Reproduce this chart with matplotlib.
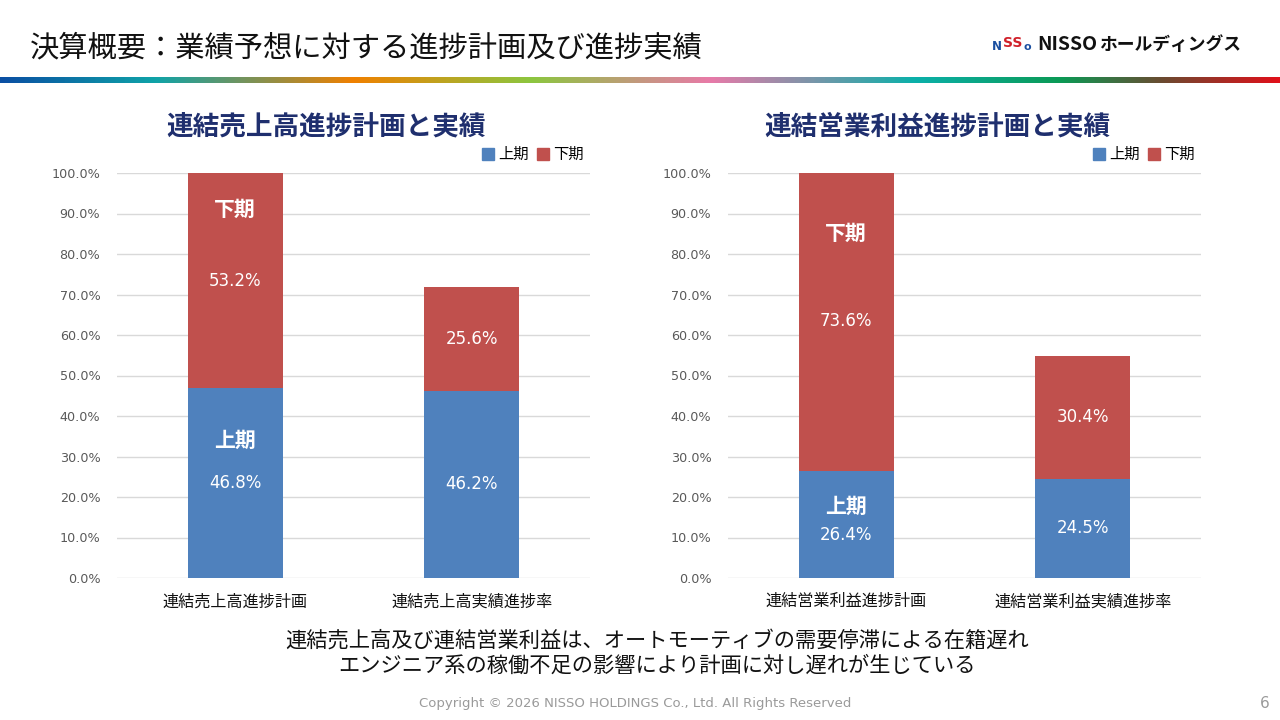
import matplotlib.pyplot as plt
import numpy as np
from matplotlib.colors import LinearSegmentedColormap
from matplotlib.lines import Line2D

plt.rcParams['font.family'] = ['Noto Sans CJK JP', 'DejaVu Sans']

# data
left_cats = ['連結売上高進捗計画', '連結売上高実績進捗率']
left_h1 = [46.8, 46.2]
left_h2 = [53.2, 25.6]

right_cats = ['連結営業利益進捗計画', '連結営業利益実績進捗率']
right_h1 = [26.4, 24.5]
right_h2 = [73.6, 30.4]

series_names = ['上期', '下期']
yticks = np.arange(0, 101, 10)

BLUE = '#4f81bd'
RED = '#c0504d'
NAVY = '#1f2f6e'

fig = plt.figure(figsize=(12.8, 7.2), dpi=100)
fig.patch.set_facecolor('white')

# header
fig.text(30 / 1280, 1 - 48 / 720, '決算概要：業績予想に対する進捗計画及び進捗実績',
         fontsize=21.1, color='#111111', va='center', ha='left')

# logo
fig.text(992 / 1280, 1 - 46 / 720, 'N', fontsize=8.5, color='#1a4fa0', fontweight='bold',
         va='center', ha='left', family='DejaVu Sans')
fig.text(1003.5 / 1280, 1 - 43 / 720, 'SS', fontsize=10, color='#d0202a', fontweight='bold',
         va='center', ha='left', family='DejaVu Sans')
fig.text(1024 / 1280, 1 - 47 / 720, 'o', fontsize=8, color='#1a4fa0', fontweight='bold',
         va='center', ha='left', family='DejaVu Sans')
fig.text(1037 / 1280, 1 - 45 / 720, 'NISSO', fontsize=14, color='#111111', fontweight='bold',
         va='center', ha='left')
fig.text(1099 / 1280, 1 - 45 / 720, 'ホールディングス', fontsize=12.8, color='#111111',
         fontweight='bold', va='center', ha='left')

# gradient stripe
stops = [(0.0, '#0a4fa3'), (0.12, '#0fa3a8'), (0.275, '#f08000'), (0.415, '#8cc63f'),
         (0.555, '#e87aa8'), (0.715, '#0bb0aa'), (0.83, '#0a9a55'), (0.91, '#6b4a30'),
         (1.0, '#e0101a')]
cmap = LinearSegmentedColormap.from_list('stripe', stops)
sax = fig.add_axes([0, 1 - 83 / 720, 1, 6 / 720])
sax.imshow(np.linspace(0, 1, 512)[None, :], aspect='auto', cmap=cmap)
sax.axis('off')


def draw_panel(rect, cats, h1, h2, title, title_x, annots):
    ax = fig.add_axes(rect)
    x = np.arange(len(cats))
    ax.bar(x, h1, width=0.4, color=BLUE, zorder=3)
    ax.bar(x, h2, width=0.4, bottom=h1, color=RED, zorder=3)
    ax.set_xlim(-0.5, 1.5)
    ax.set_ylim(0, 100)
    ax.set_yticks(yticks)
    ax.set_yticklabels(['%.1f%%' % v for v in yticks], family='DejaVu Sans')
    ax.set_xticks(x)
    ax.set_xticklabels(cats, fontsize=11.6, color='#111111')
    ax.tick_params(axis='y', length=0, labelsize=9.2, labelcolor='#595959', pad=12)
    ax.tick_params(axis='x', length=0, pad=11)
    ax.grid(axis='y', color='#d9d9d9', linewidth=1, zorder=0)
    for s in ax.spines.values():
        s.set_visible(False)
    for i in range(len(cats)):
        off1, off2 = annots['val_off'][i]
        ax.text(x[i], h1[i] / 2 + off1, '%.1f%%' % h1[i], color='white', fontsize=12,
                ha='center', va='center', zorder=4, family='DejaVu Sans')
        ax.text(x[i], h1[i] + h2[i] / 2 + off2, '%.1f%%' % h2[i], color='white', fontsize=12,
                ha='center', va='center', zorder=4, family='DejaVu Sans')
    ax.text(0, annots['up'], '上期', color='white', fontsize=15, fontweight='bold',
            ha='center', va='center', zorder=4)
    ax.text(0, annots['down'], '下期', color='white', fontsize=15, fontweight='bold',
            ha='center', va='center', zorder=4)
    handles = [Line2D([], [], marker='s', linestyle='none', markersize=8, color=c)
               for c in (BLUE, RED)]
    ax.legend(handles, series_names, loc='center right', bbox_to_anchor=(0.987, 1.045),
              ncol=2, frameon=False, fontsize=11, handletextpad=0.15, columnspacing=0.35,
              handlelength=1.1, borderaxespad=0, borderpad=0)
    fig.text(title_x / 1280, 1 - 127 / 720, title, fontsize=19.2, fontweight='bold',
             color=NAVY, ha='center', va='center')
    return ax


draw_panel([117 / 1280, 1 - 578 / 720, 473 / 1280, 405 / 720], left_cats, left_h1, left_h2,
           '連結売上高進捗計画と実績', 326, {'up': 34.0, 'down': 91.0,
                                              'val_off': [(0, 0), (0, 0)]})
draw_panel([728 / 1280, 1 - 578 / 720, 473 / 1280, 405 / 720], right_cats, right_h1, right_h2,
           '連結営業利益進捗計画と実績', 937, {'up': 17.8, 'down': 85.0,
                                                'val_off': [(-2.6, 0.3), (0, 0)]})

fig.text(657 / 1280, 1 - 641 / 720, '連結売上高及び連結営業利益は、オートモーティブの需要停滞による在籍遅れ',
         fontsize=15.3, color='#111111', ha='center', va='center')
fig.text(657 / 1280, 1 - 666 / 720, 'エンジニア系の稼働不足の影響により計画に対し遅れが生じている',
         fontsize=15.3, color='#111111', ha='center', va='center')

fig.text(635 / 1280, 1 - 703 / 720, 'Copyright © 2026 NISSO HOLDINGS Co., Ltd. All Rights Reserved',
         fontsize=9.5, color='#9a9a9a', ha='center', va='center', family='DejaVu Sans')
fig.text(1265 / 1280, 1 - 703 / 720, '6', fontsize=11, color='#9a9a9a', ha='center', va='center',
         family='DejaVu Sans')

fig.savefig('out.png', dpi=100)
